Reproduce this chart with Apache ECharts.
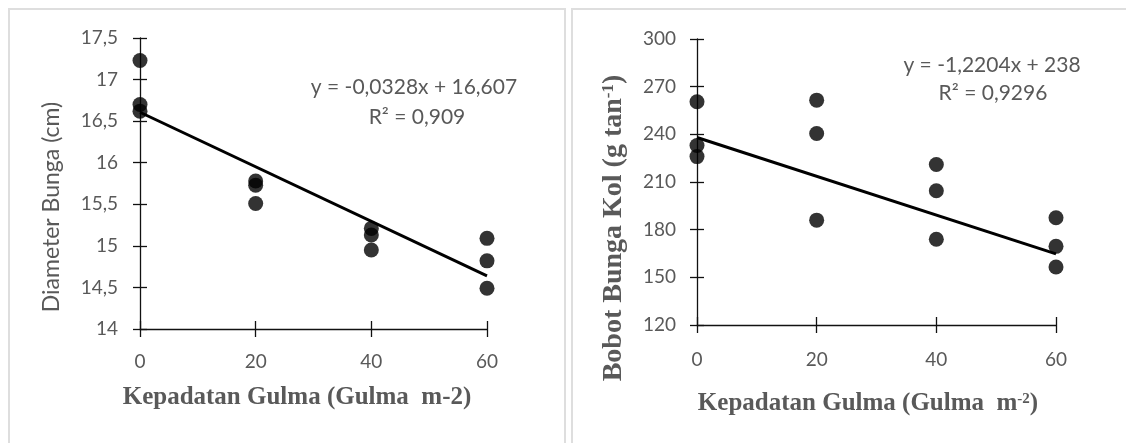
<!DOCTYPE html>
<html>
<head>
<meta charset="utf-8">
<script src="https://cdn.jsdelivr.net/npm/echarts@6/dist/echarts.min.js"></script>
<style>
  html, body { margin: 0; padding: 0; background: #ffffff; }
  #wrap { position: relative; width: 1126px; height: 443px; overflow: hidden; background: #fff; }
  .panel { position: absolute; top: 8px; height: 460px; border: 2px solid #dedede; box-sizing: border-box; }
  #p1 { left: 8px; width: 558px; }
  #p2 { left: 571px; width: 600px; }
  #chart { position: absolute; left: 0; top: 0; width: 1126px; height: 443px; }
</style>
</head>
<body>
<div id="wrap">
  <div class="panel" id="p1"></div>
  <div class="panel" id="p2"></div>
  <div id="chart"></div>
</div>
<script>
// ---- Data ----
const xTicks = [0, 20, 40, 60];

// Left chart: Diameter Bunga (cm)
const diameterPoints = [
  [0, 17.23], [0, 16.70], [0, 16.62],
  [20, 15.78], [20, 15.73], [20, 15.51],
  [40, 15.21], [40, 15.13], [40, 14.95],
  [60, 15.09], [60, 14.82], [60, 14.49]
];
const diameterTrend = [[0, 16.607], [60, 14.639]];
const diameterTickLabels = ['14', '14,5', '15', '15,5', '16', '16,5', '17', '17,5'];
const diameterEquation = ['y = -0,0328x + 16,607', 'R² = 0,909'];

// Right chart: Bobot Bunga Kol (g tan-1)
const bobotPoints = [
  [0, 260.5], [0, 233], [0, 226],
  [20, 261.5], [20, 240.5], [20, 186],
  [40, 221], [40, 204.5], [40, 174],
  [60, 187.5], [60, 169.5], [60, 156.5]
];
const bobotTrend = [[0, 238], [60, 164.8]];
const bobotTickLabels = ['120', '150', '180', '210', '240', '270', '300'];
const bobotEquation = ['y = -1,2204x + 238', 'R² = 0,9296'];

const xTitleLeft = 'Kepadatan Gulma (Gulma  m-2)';
const xTitleRight = ['Kepadatan Gulma (Gulma  m', '-2', ')'];
const yTitleLeft = 'Diameter Bunga (cm)';
const yTitleRight = ['Bobot Bunga Kol (g tan', '-1', ')'];

// ---- Styles ----
const gray = '#595959';
const lineCol = '#111111';
const tickFont = 'Lato';
const tickSize = 19;
const serif = '"Liberation Serif", "Times New Roman", serif';

function xAxisPair(gridIndex, margin) {
  const base = { type: 'value', gridIndex, min: 0, max: 60, interval: 20, position: 'bottom', splitLine: { show: false } };
  return [
    Object.assign({}, base, {
      axisLine: { show: true, lineStyle: { color: lineCol, width: 1.3 } },
      axisTick: { show: true, inside: false, length: 8, lineStyle: { color: lineCol, width: 1.3 } },
      axisLabel: { show: true, margin, color: gray, fontFamily: tickFont, fontSize: tickSize,
        formatter: (v) => String(xTicks[xTicks.indexOf(v)]) }
    }),
    Object.assign({}, base, {
      axisLine: { show: false },
      axisTick: { show: true, inside: true, length: 8, lineStyle: { color: lineCol, width: 1.3 } },
      axisLabel: { show: false }
    })
  ];
}
function yAxisPair(gridIndex, min, max, interval, labels, margin) {
  const base = { type: 'value', gridIndex, min, max, interval, position: 'left', splitLine: { show: false } };
  return [
    Object.assign({}, base, {
      axisLine: { show: true, lineStyle: { color: lineCol, width: 1.3 } },
      axisTick: { show: true, inside: false, length: 7, lineStyle: { color: lineCol, width: 1.3 } },
      axisLabel: { show: true, margin, color: gray, fontFamily: tickFont, fontSize: tickSize,
        formatter: (v, i) => labels[i] }
    }),
    Object.assign({}, base, {
      axisLine: { show: false },
      axisTick: { show: true, inside: true, length: 7, lineStyle: { color: lineCol, width: 1.3 } },
      axisLabel: { show: false }
    })
  ];
}

const xs = xAxisPair(0, 23).concat(xAxisPair(1, 25));
const ys = yAxisPair(0, 14, 17.5, 0.5, diameterTickLabels, 22).concat(yAxisPair(1, 120, 300, 30, bobotTickLabels, 21));

const richSup = (size) => ({
  a: { fontFamily: serif, fontWeight: 'bold', fontSize: size, fill: gray, color: gray },
  s: { fontFamily: serif, fontWeight: 'bold', fontSize: Math.round(size * 0.6), fill: gray, color: gray, verticalAlign: 'top' }
});

const chart = echarts.init(document.getElementById('chart'), null, { renderer: 'canvas' });
chart.setOption({
  animation: false,
  backgroundColor: 'transparent',
  grid: [
    { left: 140, top: 38, width: 347, height: 291 },
    { left: 697, top: 39, width: 359, height: 286 }
  ],
  xAxis: xs,
  yAxis: ys,
  graphic: [
    // regression equations
    { type: 'text', x: 414, y: 87, style: { text: diameterEquation[0], fill: gray, font: '21px Lato', textAlign: 'center', textVerticalAlign: 'middle' } },
    { type: 'text', x: 417, y: 117, style: { text: diameterEquation[1], fill: gray, font: '21px Lato', textAlign: 'center', textVerticalAlign: 'middle' } },
    { type: 'text', x: 992, y: 65, style: { text: bobotEquation[0], fill: gray, font: '21px Lato', textAlign: 'center', textVerticalAlign: 'middle' } },
    { type: 'text', x: 993, y: 93, style: { text: bobotEquation[1], fill: gray, font: '21px Lato', textAlign: 'center', textVerticalAlign: 'middle' } },
    // axis titles
    { type: 'text', x: 297, y: 398, style: { text: xTitleLeft, fill: gray, font: 'bold 25px ' + serif, textAlign: 'center', textVerticalAlign: 'middle' } },
    { type: 'text', x: 868, y: 404, style: {
        text: '{a|' + xTitleRight[0] + '}{s|' + xTitleRight[1] + '}{a|' + xTitleRight[2] + '}',
        rich: richSup(25), textAlign: 'center', textVerticalAlign: 'middle' } },
    { type: 'text', x: 52, y: 207, rotation: Math.PI / 2, style: { text: yTitleLeft, fill: gray, font: '23px Lato', textAlign: 'center', textVerticalAlign: 'middle' } },
    { type: 'text', x: 614, y: 228, rotation: Math.PI / 2, style: {
        text: '{a|' + yTitleRight[0] + '}{s|' + yTitleRight[1] + '}{a|' + yTitleRight[2] + '}',
        rich: richSup(28), textAlign: 'center', textVerticalAlign: 'middle' } }
  ],
  series: [
    { type: 'line', xAxisIndex: 0, yAxisIndex: 0, data: diameterTrend, symbol: 'none', lineStyle: { color: '#000', width: 3 }, z: 3 },
    { type: 'scatter', xAxisIndex: 0, yAxisIndex: 0, data: diameterPoints, symbolSize: 15, itemStyle: { color: '#000' }, clip: false, z: 4 },
    { type: 'line', xAxisIndex: 2, yAxisIndex: 2, data: bobotTrend, symbol: 'none', lineStyle: { color: '#000', width: 3 }, z: 3 },
    { type: 'scatter', xAxisIndex: 2, yAxisIndex: 2, data: bobotPoints, symbolSize: 15, itemStyle: { color: '#000' }, clip: false, z: 4 }
  ]
});
</script>
</body>
</html>
